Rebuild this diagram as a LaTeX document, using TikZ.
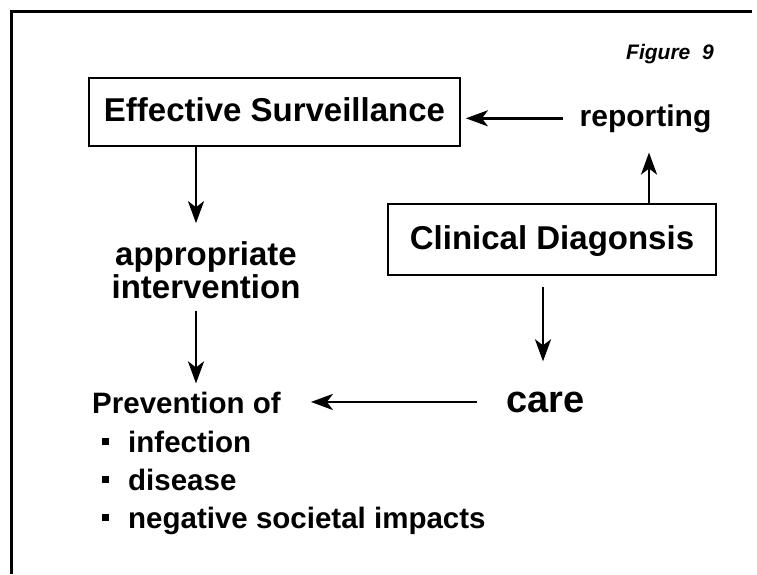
\documentclass[tikz,border=0pt]{standalone}
\usepackage{fontspec}
\setmainfont{Liberation Sans}
\usetikzlibrary{arrows.meta}
\tikzset{
  boxnode/.style={draw, line width=1.8pt, inner sep=0pt, text height=22pt, text depth=3pt,
    font=\fontsize{33}{36}\selectfont\bfseries},
  lbl/.style={inner sep=0pt, font=\fontsize{30}{33}\selectfont\bfseries},
  arr/.style={line width=2.8pt, -{Stealth[length=22pt,width=16pt,inset=6pt]}},
  bulletsq/.style={fill=black, inner sep=0pt, minimum size=7pt},
}
\begin{document}
\begin{tikzpicture}[x=1pt,y=-1pt]
\useasboundingbox (0,0) rectangle (757,574);
% frame
\draw[line width=3pt] (11,574) -- (11,11) -- (752,11);

\node[lbl, anchor=base west, font=\fontsize{21}{24}\selectfont\bfseries\itshape] (fig) at (626,59) {Figure\ \ 9};

\node[boxnode, minimum width=371pt, minimum height=68pt] (es) at (274.5,112) {Effective Surveillance};
\node[lbl, anchor=base] (rep) at (645.5,126) {reporting};
\node[boxnode, minimum width=328pt, minimum height=71pt] (cd) at (552,239.5) {Clinical Diagonsis};

\node[lbl, align=center, font=\fontsize{33}{33}\selectfont\bfseries] (ai) at (206,270) {appropriate\\intervention};

\node[lbl, anchor=base west, font=\fontsize{29.5}{33}\selectfont\bfseries] (prev) at (92,413) {Prevention of};
\node[lbl, anchor=base west, font=\fontsize{38}{40}\selectfont\bfseries] (care) at (506,412) {care};

\node[bulletsq] (b1) at (105,441) {};
\node[bulletsq] (b2) at (105,479) {};
\node[bulletsq] (b3) at (105,517) {};
\node[lbl, anchor=base west, font=\fontsize{29.5}{33}\selectfont\bfseries] (i1) at (128,452) {infection};
\node[lbl, anchor=base west, font=\fontsize{29.5}{33}\selectfont\bfseries] (i2) at (128,490) {disease};
\node[lbl, anchor=base west, font=\fontsize{29.5}{33}\selectfont\bfseries] (i3) at (128,528) {negative societal impacts};

\coordinate (lx) at (196,0);
\coordinate (ux) at (649,0);
\coordinate (dx) at (543,0);

\draw[arr, shorten >=18pt] (es.south -| lx) -- (ai.north -| lx);
\draw[arr, shorten <=12pt, shorten >=8pt] (ai.south -| lx) -- (prev.north -| lx);
\draw[arr, shorten <=11pt, shorten >=30pt] (cd.south -| dx) -- (care.north -| dx);
\draw[arr, shorten <=29pt, shorten >=30pt] (care.west) -- (prev.east |- care.west);
\draw[arr, shorten <=16pt, shorten >=5pt] (rep.west) -- (es.east |- rep.west);
\draw[arr, shorten >=20pt] (cd.north -| ux) -- (rep.south -| ux);
\end{tikzpicture}
\end{document}
